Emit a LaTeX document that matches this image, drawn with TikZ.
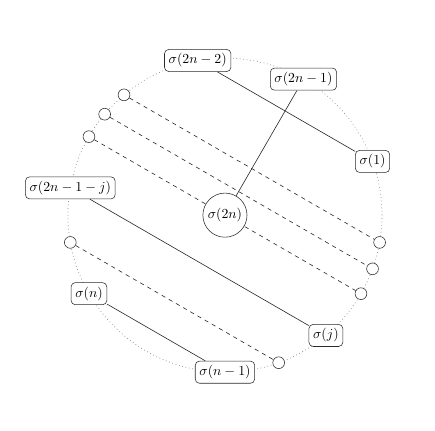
\documentclass[tikz,border=0pt]{standalone}
\usepackage{tikz}
\usetikzlibrary{backgrounds}
\definecolor{RimGray}{HTML}{808080}
\definecolor{EdgeDark}{HTML}{2A2A2A}

\begin{document}
\begin{tikzpicture}[x=1cm,y=1cm,
  perm/.style={draw=EdgeDark,rounded corners=3pt,fill=white,inner sep=3pt},
  hub/.style={circle,draw=EdgeDark,fill=white,inner sep=2pt},
  dot/.style={circle,draw=EdgeDark,fill=white,minimum size=0.3cm,inner sep=0pt},
  pair/.style={EdgeDark,line width=.45pt},
  skip/.style={EdgeDark,line width=.45pt,dashed}]
\useasboundingbox (-5.73,-5.48) rectangle (5.35,5.48);
% nodes on the rim
\node[hub] (c) at (0,0) {$\sigma(2n)$};
\node[perm] (s2nm1) at (60:4) {$\sigma(2n-1)$};
\node[perm] (s2nm2) at (100:4) {$\sigma(2n-2)$};
\node[perm] (s1) at (20:4) {$\sigma(1)$};
\node[dot] (a1) at (130:4) {};
\node[dot] (a2) at (140:4) {};
\node[dot] (a3) at (150:4) {};
\node[dot] (b1) at (-10:4) {};
\node[dot] (b2) at (-20:4) {};
\node[dot] (b3) at (-30:4) {};
\node[perm] (s2nm1mj) at (170:4) {$\sigma(2n-1-j)$};
\node[perm] (sj) at (-50:4) {$\sigma(j)$};
\node[dot] (a4) at (190:4) {};
\node[dot] (b4) at (-70:4) {};
\node[perm] (sn) at (210:4) {$\sigma(n)$};
\node[perm] (snm1) at (-90:4) {$\sigma(n-1)$};
% chords behind the nodes
\begin{scope}[on background layer]
\draw[RimGray,dotted,line width=.5pt] (0,0) circle (4);
\draw[pair] (c) -- (s2nm1);
\draw[pair] (s2nm2) -- (s1);
\draw[skip] (a1) -- (b1);
\draw[skip] (a2) -- (b2);
\draw[skip] (a3) -- (b3);
\draw[pair] (s2nm1mj) -- (sj);
\draw[skip] (a4) -- (b4);
\draw[pair] (sn) -- (snm1);
\end{scope}
\end{tikzpicture}
\end{document}
